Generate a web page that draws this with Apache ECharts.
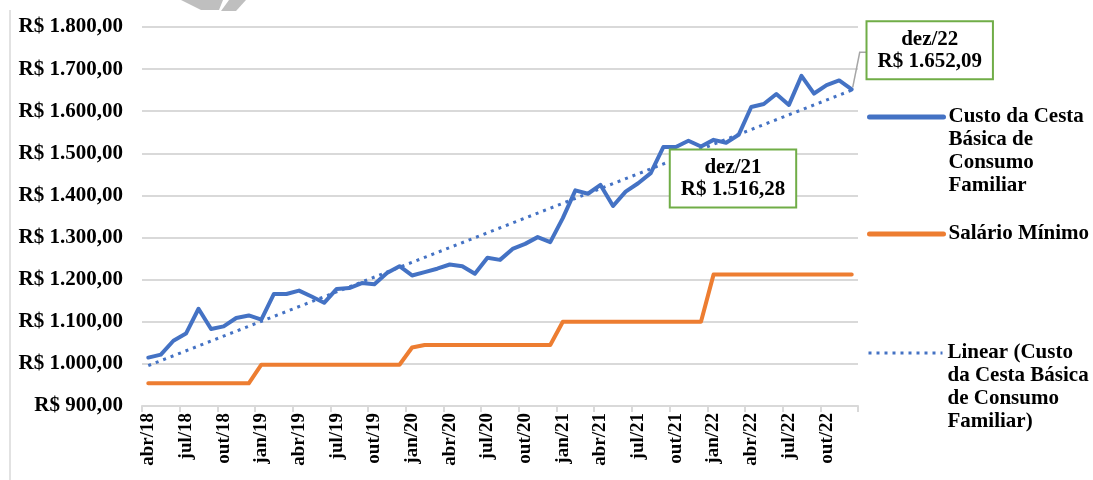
<!DOCTYPE html>
<html>
<head>
<meta charset="utf-8">
<script src="https://cdn.jsdelivr.net/npm/echarts@6/dist/echarts.min.js"></script>
<style>
html,body{margin:0;padding:0;background:#fff;}
#chart{width:1093px;height:480px;}
</style>
</head>
<body>
<div id="chart"></div>
<script>
// ---- Data ----
const months = [
  'abr/18','mai/18','jun/18','jul/18','ago/18','set/18','out/18','nov/18','dez/18',
  'jan/19','fev/19','mar/19','abr/19','mai/19','jun/19','jul/19','ago/19','set/19','out/19','nov/19','dez/19',
  'jan/20','fev/20','mar/20','abr/20','mai/20','jun/20','jul/20','ago/20','set/20','out/20','nov/20','dez/20',
  'jan/21','fev/21','mar/21','abr/21','mai/21','jun/21','jul/21','ago/21','set/21','out/21','nov/21','dez/21',
  'jan/22','fev/22','mar/22','abr/22','mai/22','jun/22','jul/22','ago/22','set/22','out/22','nov/22','dez/22'
];
const cestaBasica = [
  1015, 1022, 1055, 1072, 1131, 1083, 1089, 1109, 1115,
  1105, 1166, 1166, 1174, 1160, 1145, 1178, 1180, 1192, 1189, 1216, 1232,
  1210, 1218, 1226, 1236, 1232, 1214, 1252, 1247, 1273, 1285, 1301, 1289,
  1346, 1412, 1404, 1425, 1375, 1409, 1429, 1453, 1515, 1515, 1530, 1516.28,
  1532, 1525, 1544, 1610, 1617, 1641, 1615, 1684, 1642, 1662, 1673, 1652.09
];
const salarioMinimo = [
  954, 954, 954, 954, 954, 954, 954, 954, 954,
  998, 998, 998, 998, 998, 998, 998, 998, 998, 998, 998, 998,
  1039, 1045, 1045, 1045, 1045, 1045, 1045, 1045, 1045, 1045, 1045, 1045,
  1100, 1100, 1100, 1100, 1100, 1100, 1100, 1100, 1100, 1100, 1100, 1100,
  1212, 1212, 1212, 1212, 1212, 1212, 1212, 1212, 1212, 1212, 1212, 1212
];
// Linear trend line (Excel) endpoints
const trendStart = 996;
const trendEnd = 1650;
const yTickLabels = ['R$ 900,00','R$ 1.000,00','R$ 1.100,00','R$ 1.200,00','R$ 1.300,00',
  'R$ 1.400,00','R$ 1.500,00','R$ 1.600,00','R$ 1.700,00','R$ 1.800,00'];
const annotatedMonths = ['dez/21', 'dez/22'];

const seriesNames = [
  'Custo da Cesta Básica de Consumo Familiar',
  'Salário Mínimo',
  'Linear (Custo da Cesta Básica de Consumo Familiar)'
];
const legendLines = {
  'Custo da Cesta Básica de Consumo Familiar': ['Custo da Cesta','Básica de','Consumo','Familiar'],
  'Salário Mínimo': ['Salário Mínimo'],
  'Linear (Custo da Cesta Básica de Consumo Familiar)': ['Linear (Custo','da Cesta Básica','de Consumo','Familiar)']
};

// ---- helpers ----
function fmtBRL(v) {
  const parts = v.toFixed(2).split('.');
  const intPart = parts[0].replace(/\B(?=(\d{3})+(?!\d))/g, '.');
  return 'R$ ' + intPart + ',' + parts[1];
}
const trendData = months.map((m, i) => i === 0 ? trendStart : (i === months.length - 1 ? trendEnd : null));

const FONT = "'Liberation Serif', 'Times New Roman', serif";
const BLUE = '#4472c4';
const ORANGE = '#ed7d31';
const LH = 23;
const FS = 21;

function legendFor(idx, cy, lineStyle) {
  const name = seriesNames[idx];
  const nLines = legendLines[name].length;
  const total = (2 * nLines - 1) * LH;
  return {
    data: [name],
    orient: 'vertical',
    left: 867,
    top: cy - total / 2,
    padding: 0,
    itemWidth: 74,
    itemHeight: 14,
    selectedMode: false,
    itemStyle: { opacity: 0, borderWidth: 0 },
    lineStyle: lineStyle,
    textStyle: { fontFamily: FONT, fontWeight: 'bold', fontSize: FS, color: '#000', lineHeight: LH },
    formatter: function (n) {
      const lines = legendLines[n];
      return '\n'.repeat(lines.length - 1) + lines.join('\n');
    }
  };
}

const labelStyle = {
  show: true,
  fontFamily: FONT, fontWeight: 'bold', fontSize: FS, lineHeight: 22, color: '#000',
  backgroundColor: '#fff', borderColor: '#70ad47', borderWidth: 2, padding: [6, 10],
  align: 'center', verticalAlign: 'middle',
  formatter: function (p) { return p.name + '\n' + fmtBRL(p.value); }
};

const chart = echarts.init(document.getElementById('chart'), null, { renderer: 'canvas' });
const option = {
  animation: false,
  backgroundColor: '#fff',
  grid: { left: 142, right: 235, top: 27, bottom: 74, containLabel: false },
  xAxis: {
    type: 'category',
    data: months,
    boundaryGap: true,
    axisLine: { lineStyle: { color: '#d9d9d9', width: 2 } },
    axisTick: { show: true, interval: 2, length: 6, lineStyle: { color: '#d9d9d9', width: 2 } },
    axisLabel: {
      interval: 2, rotate: 90, margin: 7,
      fontFamily: FONT, fontWeight: 'bold', fontSize: 19, color: '#000'
    },
    splitLine: { show: false }
  },
  yAxis: {
    type: 'value',
    min: 900, max: 1800, interval: 100,
    axisLine: { show: false },
    axisTick: { show: false },
    axisLabel: {
      margin: 19,
      fontFamily: FONT, fontWeight: 'bold', fontSize: FS, color: '#000',
      formatter: function (v) { return yTickLabels[Math.round((v - 900) / 100)]; }
    },
    splitLine: { lineStyle: { color: '#d9d9d9', width: 2 } }
  },
  legend: [
    legendFor(0, 117, { width: 5, cap: 'round', opacity: 1 }),
    legendFor(1, 234, { width: 5, cap: 'round', opacity: 1 }),
    legendFor(2, 353, { width: 3, type: [3, 5], cap: 'butt', opacity: 1 })
  ],
  series: [
    {
      name: seriesNames[0], type: 'line', data: cestaBasica,
      symbol: 'none', z: 3,
      lineStyle: { color: BLUE, width: 4, join: 'round', cap: 'round' },
      itemStyle: { color: BLUE },
      markPoint: {
        symbol: 'circle', symbolSize: 1,
        itemStyle: { color: 'rgba(0,0,0,0)' },
        label: labelStyle,
        z: 10,
        data: [
          { name: annotatedMonths[0], coord: [annotatedMonths[0], cestaBasica[months.indexOf(annotatedMonths[0])]],
            value: cestaBasica[months.indexOf(annotatedMonths[0])], label: { offset: [32, 32] } },
          { name: annotatedMonths[1], coord: [annotatedMonths[1], cestaBasica[months.indexOf(annotatedMonths[1])]],
            value: cestaBasica[months.indexOf(annotatedMonths[1])], label: { offset: [78, -39] } }
        ]
      }
    },
    {
      name: seriesNames[1], type: 'line', data: salarioMinimo,
      symbol: 'none', z: 2,
      lineStyle: { color: ORANGE, width: 4, join: 'round', cap: 'round' },
      itemStyle: { color: ORANGE }
    },
    {
      name: seriesNames[2], type: 'line', data: trendData, connectNulls: true,
      symbol: 'none', z: 4,
      lineStyle: { color: BLUE, width: 3, type: [3, 5], cap: 'butt' },
      itemStyle: { color: BLUE }
    }
  ]
};
chart.setOption(option);

// leader line for the dez/22 annotation, positioned via the chart's own scales
const lastIdx = months.indexOf(annotatedMonths[1]);
const p = chart.convertToPixel({ gridIndex: 0 }, [annotatedMonths[1], cestaBasica[lastIdx]]);
chart.setOption({
  graphic: [
    { type: 'polyline', z: 5, silent: true,
      shape: { points: [[p[0] + 1, p[1] - 2], [p[0] + 8, p[1] - 37], [p[0] + 15, p[1] - 37]] },
      style: { stroke: '#a6a6a6', lineWidth: 1.5, fill: null } },
    { type: 'line', silent: true,
      shape: { x1: 10, y1: 10, x2: 10, y2: 480 },
      style: { stroke: '#d9d9d9', lineWidth: 1.5 } },
    { type: 'polygon', silent: true,
      shape: { points: [[181, 0], [223, 0], [219, 10], [201, 10]] },
      style: { fill: '#bfbfbf' } },
    { type: 'polygon', silent: true,
      shape: { points: [[229, 0], [246, 0], [236, 11], [221, 11]] },
      style: { fill: '#bfbfbf' } }
  ]
});
</script>
</body>
</html>
